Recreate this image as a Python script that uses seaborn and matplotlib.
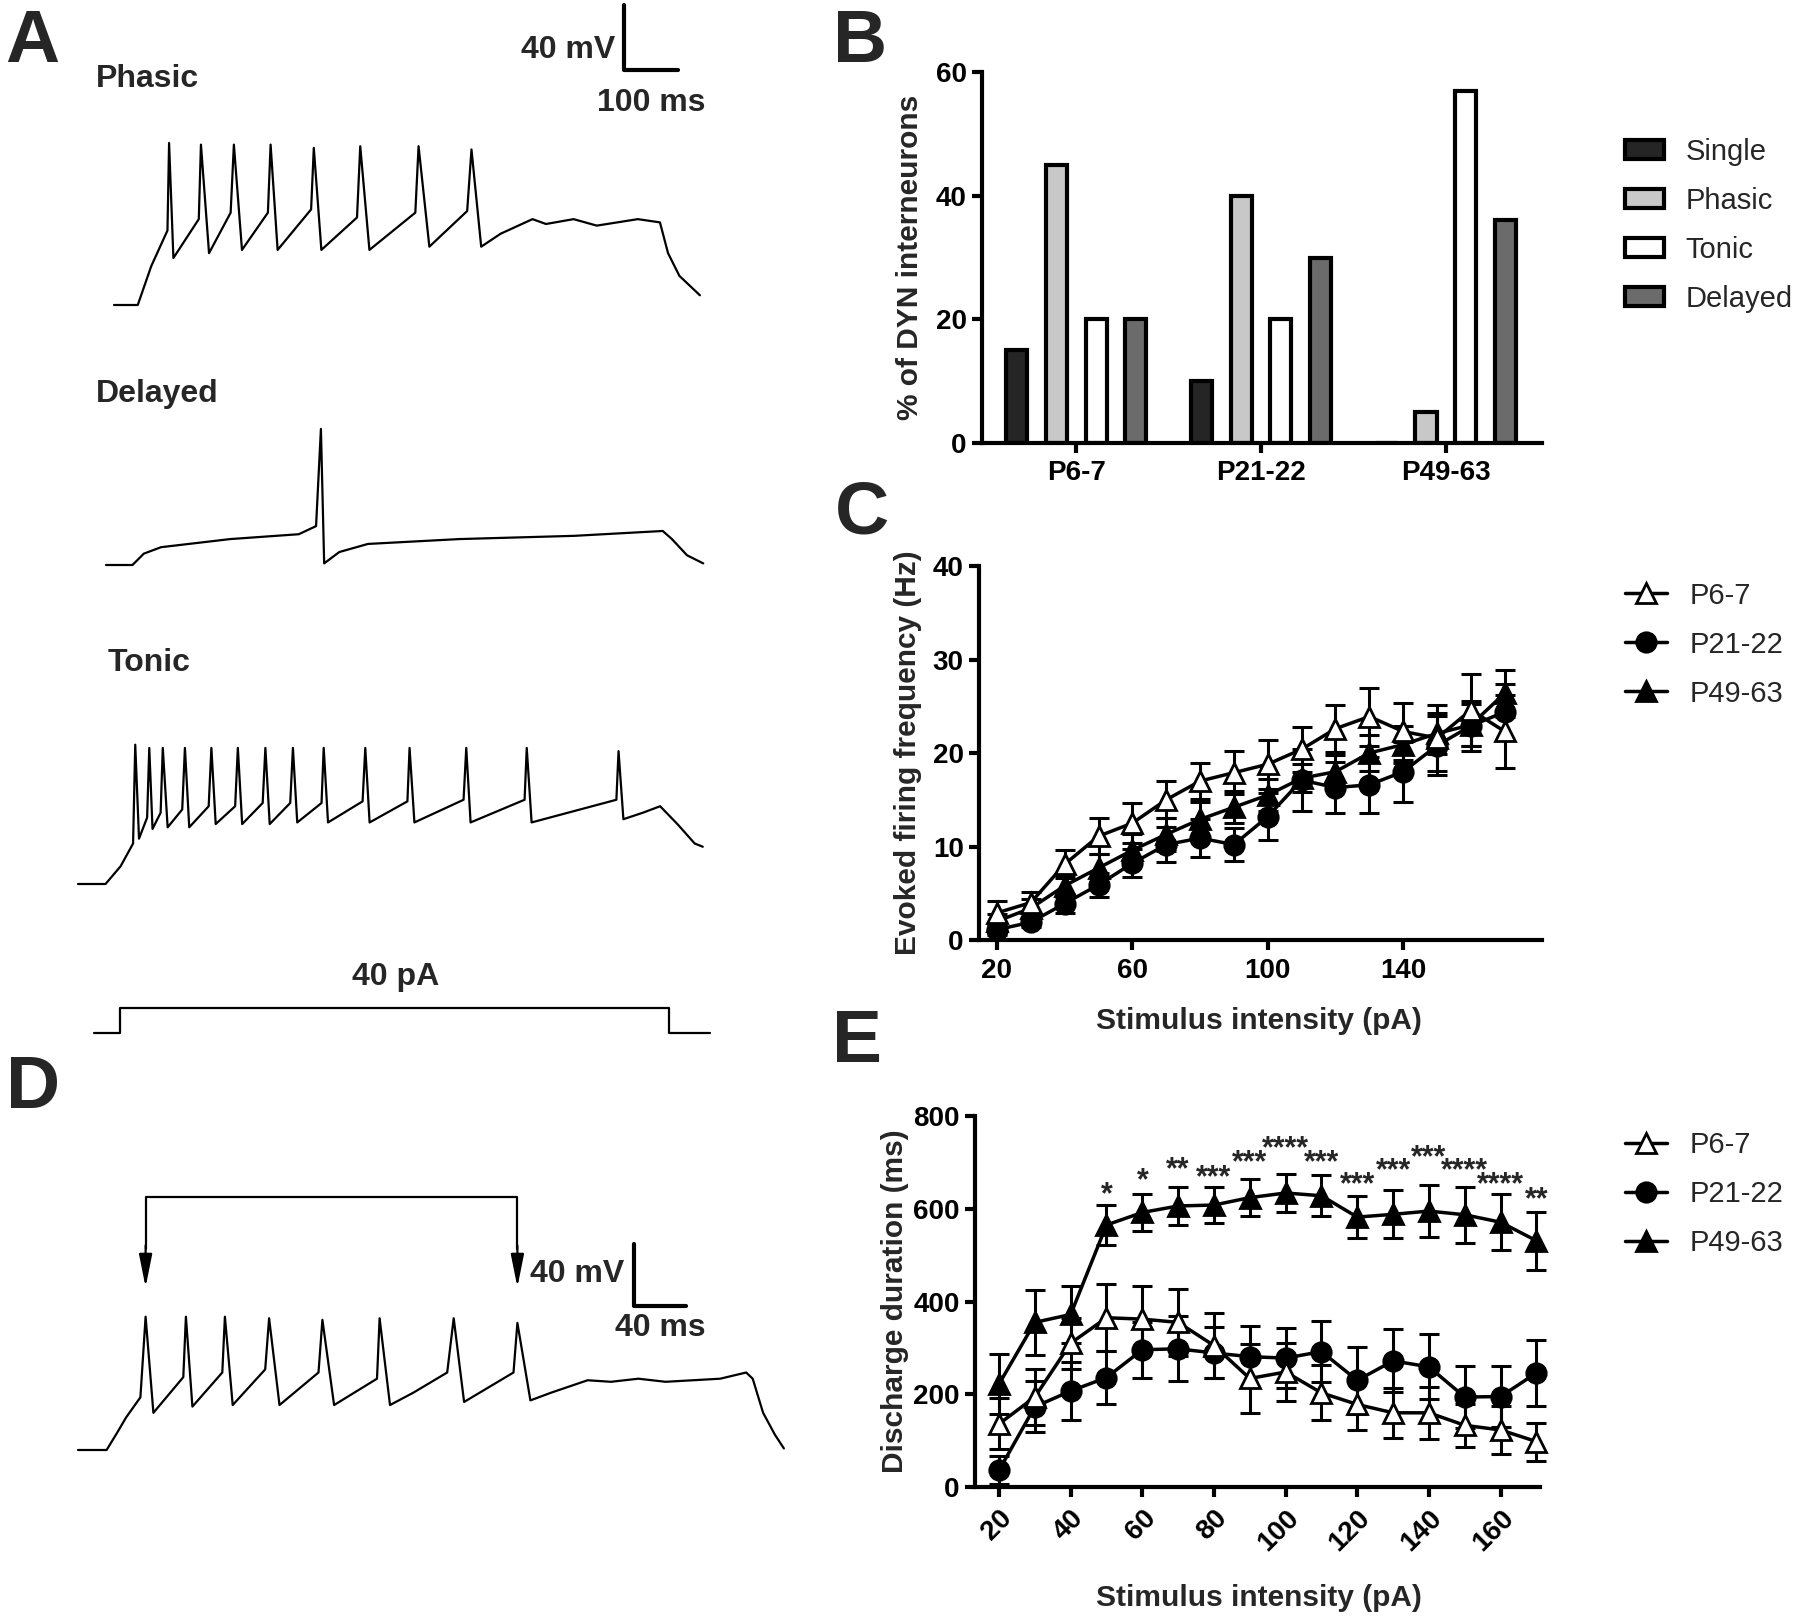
import matplotlib
matplotlib.use("Agg")
import numpy as np
import pandas as pd
import matplotlib.pyplot as plt
import seaborn as sns
from matplotlib.patches import Patch
from matplotlib.lines import Line2D

# ---- panel B: firing types by age (%)
ages = ["P6-7", "P21-22", "P49-63"]
firing_types = ["Single", "Phasic", "Tonic", "Delayed"]
single_pct = [15, 10, 0]
phasic_pct = [45, 40, 5]
tonic_pct = [20, 20, 57]
delayed_pct = [20, 30, 36]
type_colors = ["#252525", "#c8c8c8", "#ffffff", "#6b6b6b"]

# ---- panel C: evoked firing frequency (Hz), mean and SEM
stim_c = [20, 30, 40, 50, 60, 70, 80, 90, 100, 110, 120, 130, 140, 150, 160, 170]
freq_p6 = [2.9, 4.0, 8.1, 11.1, 12.5, 15.0, 17.0, 17.9, 18.8, 20.4, 22.6, 23.9, 22.3, 21.6, 24.6, 22.3]
freq_p6_sem = [1.3, 1.1, 1.5, 1.9, 2.1, 2.0, 1.9, 2.3, 2.6, 2.4, 2.5, 3.1, 3.1, 3.5, 3.8, 3.9]
freq_p21 = [1.1, 1.9, 3.9, 5.9, 8.2, 10.2, 10.9, 10.2, 13.2, 17.1, 16.3, 16.6, 18.0, 20.8, 22.9, 24.4]
freq_p21_sem = [0.6, 0.5, 1.0, 1.3, 1.5, 1.9, 2.0, 1.8, 2.5, 3.3, 2.7, 3.0, 3.2, 3.2, 2.7, 3.0]
freq_p49 = [2.0, 3.4, 5.8, 7.7, 9.6, 11.3, 12.9, 14.2, 15.5, 17.3, 18.0, 20.0, 20.9, 22.1, 23.0, 26.4]
freq_p49_sem = [0.8, 1.0, 1.2, 1.5, 1.7, 1.8, 1.9, 1.7, 1.7, 1.5, 1.8, 1.9, 2.0, 2.2, 2.2, 2.5]

# ---- panel E: discharge duration (ms), mean and SEM
stim_e = [20, 30, 40, 50, 60, 70, 80, 90, 100, 110, 120, 130, 140, 150, 160, 170]
dur_p6 = [136, 194, 310, 365, 362, 355, 305, 234, 248, 203, 178, 160, 160, 133, 123, 98]
dur_p6_sem = [55, 60, 55, 72, 72, 73, 70, 75, 63, 59, 56, 54, 56, 47, 51, 41]
dur_p21 = [36, 173, 207, 236, 296, 298, 289, 281, 278, 292, 230, 272, 259, 194, 195, 246]
dur_p21_sem = [30, 55, 63, 57, 60, 70, 55, 66, 64, 66, 72, 68, 70, 66, 66, 71]
dur_p49 = [222, 355, 372, 565, 592, 606, 608, 624, 634, 628, 582, 588, 595, 587, 571, 531]
dur_p49_sem = [65, 70, 62, 44, 40, 40, 38, 40, 40, 44, 46, 52, 56, 60, 60, 62]
star_x = [50, 60, 70, 80, 90, 100, 110, 120, 130, 140, 150, 160, 170]
star_labels = ["*", "*", "**", "***", "***", "****", "***", "***", "***", "***", "****", "****", "**"]
star_y = [651, 680, 705, 687, 720, 749, 720, 673, 702, 731, 702, 673, 640]

# ---- example traces (time in ms, membrane potential in mV)
phasic_t = [0, 44, 69, 99, 102, 110, 157, 161, 176, 216, 222, 237, 285, 290, 303, 365, 370, 384,
            450, 456, 473, 558, 564, 584, 654, 662, 680, 716, 775, 800, 851, 894, 970, 1011,
            1026, 1047, 1085]
phasic_mv = [-70, -70, -46, -24, 30, -41, -17, 29, -38, -13, 29, -36, -13, 29, -36, -11, 27, -36,
             -16, 28, -36, -13, 28, -34, -12, 26, -34, -26, -17, -20, -17, -21, -17, -19,
             -38, -52, -64]
delayed_t = [0, 49, 70, 102, 230, 357, 389, 398, 404, 432, 485, 654, 867, 1031, 1048, 1076, 1106]
delayed_mv = [-70, -70, -63, -59, -54, -51, -46, 14, -69, -62, -57, -54, -52, -49, -54, -64, -69]
tonic_t = [0, 51, 79, 102, 106, 113, 128, 132, 138, 153, 157, 166, 193, 198, 206, 242, 247, 255,
           291, 296, 304, 342, 347, 355, 393, 398, 406, 451, 455, 463, 527, 532, 540, 610, 614,
           623, 714, 719, 727, 827, 831, 840, 997, 1001, 1010, 1046, 1078, 1110, 1142, 1157]
tonic_mv = [-70, -70, -59, -45, 16, -42, -29, 14, -36, -26, 14, -35, -24, 14, -35, -22, 14, -33,
            -22, 14, -33, -20, 14, -33, -20, 14, -32, -20, 14, -32, -19, 14, -32, -19, 14,
            -32, -18, 14, -32, -18, 14, -32, -18, 12, -30, -26, -22, -33, -45, -47]
step_t = [0, 49, 49, 1065, 1065, 1140]
step_pa = [0, 0, 40, 40, 0, 0]
d_t = [0, 22, 30, 37, 48, 52, 58, 81, 83, 88, 111, 113, 119, 144, 147, 155, 185, 188, 197, 230,
       232, 240, 258, 284, 289, 297, 335, 338, 348, 364, 392, 410, 431, 452, 494, 514, 519,
       527, 536, 543]
d_mv = [-70, -70, -59, -49, -36, 16, -46, -23, 16, -42, -20, 16, -41, -18, 15, -41, -20, 14, -41,
        -24, 15, -41, -33, -20, 15, -39, -20, 12, -38, -33, -25, -26, -24, -26, -24, -20, -24,
        -46, -60, -69]

sns.set_theme(style="ticks")
plt.rcParams["font.family"] = ["Liberation Sans", "DejaVu Sans"]
plt.rcParams.update({
    "font.weight": "bold",
    "axes.labelweight": "bold",
    "axes.linewidth": 3,
    "xtick.major.width": 3,
    "ytick.major.width": 3,
    "xtick.major.size": 7,
    "ytick.major.size": 7,
    "xtick.labelsize": 20,
    "ytick.labelsize": 20,
    "xtick.color": "black",
    "ytick.color": "black",
    "axes.edgecolor": "black",
})

W, H = 1800, 1618
fig = plt.figure(figsize=(W / 100, H / 100), dpi=100)
LABEL_FS = 21.5
LEG_PROP = {"weight": "normal", "size": 21}
TXT_FS = 23


def px_rect(left, top, right, bottom):
    return [left / W, 1 - bottom / H, (right - left) / W, (bottom - top) / H]


def ftext(x, y, s, **kw):
    fig.text(x / W, 1 - y / H, s, **kw)


def trace_axes(x0, y0, top, px_per_x, px_per_y, y_base=-70.0, right=880):
    ax = fig.add_axes(px_rect(x0, top, right, y0))
    ax.set_xlim(0, (right - x0) / px_per_x)
    ax.set_ylim(y_base, y_base + (y0 - top) / px_per_y)
    ax.set_axis_off()
    return ax


trace_kw = dict(color="black", lw=1.6, clip_on=False, solid_joinstyle="round")

# ---- panel A
ax_ph = trace_axes(114, 305, 0, 0.54, 1.62)
ax_ph.plot(phasic_t, phasic_mv, **trace_kw)
ax_ph.plot([944, 944, 1044], [115, 75, 75], color="black", lw=3, clip_on=False)
ftext(615, 50, "40 mV", ha="right", va="center", fontsize=TXT_FS, fontweight="bold")
ftext(651, 103, "100 ms", ha="center", va="center", fontsize=TXT_FS, fontweight="bold")

ax_dl = trace_axes(106, 565, 330, 0.54, 1.62)
ax_dl.plot(delayed_t, delayed_mv, **trace_kw)

ax_tn = trace_axes(78, 884, 640, 0.54, 1.62)
ax_tn.plot(tonic_t, tonic_mv, **trace_kw)

ax_st = trace_axes(94, 1033, 990, 0.54, 0.625, y_base=0)
ax_st.plot(step_t, step_pa, **trace_kw)

ftext(96, 79, "Phasic", ha="left", va="center", fontsize=TXT_FS, fontweight="bold")
ftext(96, 394, "Delayed", ha="left", va="center", fontsize=TXT_FS, fontweight="bold")
ftext(108, 663, "Tonic", ha="left", va="center", fontsize=TXT_FS, fontweight="bold")
ftext(396, 977, "40 pA", ha="center", va="center", fontsize=TXT_FS, fontweight="bold")

# ---- panel D
ax_d = trace_axes(78, 1450, 1150, 1.3, 1.55)
ax_d.plot(d_t, d_mv, **trace_kw)
ax_d.plot([52, 52, 338, 338], [60, 93, 93, 60], color="black", lw=1.6, clip_on=False)
for tx in [52, 338]:
    ax_d.annotate("", xy=(tx, 35), xytext=(tx, 62),
                  arrowprops=dict(arrowstyle="-|>,head_length=1.0,head_width=0.2",
                                  color="black", lw=1.6, mutation_scale=20, shrinkA=0, shrinkB=0))
ax_d.plot([428, 428, 468], [63, 23, 23], color="black", lw=3, clip_on=False)
ftext(624, 1274, "40 mV", ha="right", va="center", fontsize=TXT_FS, fontweight="bold")
ftext(660, 1328, "40 ms", ha="center", va="center", fontsize=TXT_FS, fontweight="bold")

# ---- panel B
df_b = pd.DataFrame({
    "age": np.repeat(ages, len(firing_types)),
    "type": firing_types * len(ages),
    "pct": np.array([single_pct, phasic_pct, tonic_pct, delayed_pct]).T.ravel(),
})
ax_b = fig.add_axes(px_rect(982, 72, 1542, 443))
sns.barplot(data=df_b, x="age", y="pct", hue="type", hue_order=firing_types,
            palette=type_colors, width=0.86, gap=0.47, edgecolor="black",
            linewidth=3, saturation=1, legend=False, ax=ax_b)
ax_b.set_xlim(-0.51, 2.52)
ax_b.set_ylim(0, 60)
ax_b.set_yticks([0, 20, 40, 60])
ax_b.set_xlabel("")
ax_b.set_ylabel("% of DYN interneurons", fontsize=LABEL_FS)
ax_b.yaxis.set_label_coords(-0.104, 0.5)
ax_b.tick_params(axis="x", pad=5)
ax_b.tick_params(axis="y", pad=4)
sns.despine(ax=ax_b)
b_handles = [Patch(facecolor=c, edgecolor="black", linewidth=3) for c in type_colors]
ax_b.legend(b_handles, firing_types, loc="upper left", bbox_to_anchor=(0.9028, 0.9150),
            bbox_transform=fig.transFigure, frameon=False, prop=LEG_PROP,
            handlelength=1.33, handleheight=0.65, handletextpad=0.75, labelspacing=0.72,
            borderpad=0, borderaxespad=0)

series_style = {
    "P6-7": dict(marker="^", markerfacecolor="white"),
    "P21-22": dict(marker="o", markerfacecolor="black"),
    "P49-63": dict(marker="^", markerfacecolor="black"),
}
marker_sizes = {"^": 15, "o": 14}
order = ["P6-7", "P21-22", "P49-63"]


def line_panel(ax, x, series):
    for name, (y, err) in series.items():
        st = series_style[name]
        ax.errorbar(x, y, yerr=err, fmt="none", ecolor="black", elinewidth=2.2,
                    capsize=7, capthick=2.2, zorder=2, clip_on=False)
        sns.lineplot(x=x, y=y, ax=ax, color="black", lw=2.5, marker=st["marker"],
                     markersize=marker_sizes[st["marker"]],
                     markerfacecolor=st["markerfacecolor"], markeredgecolor="black",
                     markeredgewidth=2, zorder=3, clip_on=False)
    sns.despine(ax=ax)
    handles = [Line2D([], [], color="black", lw=2.5, marker=series_style[n]["marker"],
                      markerfacecolor=series_style[n]["markerfacecolor"], markeredgecolor="black",
                      markeredgewidth=2, markersize=marker_sizes[series_style[n]["marker"]])
               for n in order]
    return handles


# ---- panel C
ax_c = fig.add_axes(px_rect(979, 566, 1542, 940))
h_c = line_panel(ax_c, stim_c, {
    "P21-22": (freq_p21, freq_p21_sem),
    "P49-63": (freq_p49, freq_p49_sem),
    "P6-7": (freq_p6, freq_p6_sem),
})
ax_c.set_xlim(14.7, 181)
ax_c.set_ylim(0, 40)
ax_c.set_xticks([20, 60, 100, 140])
ax_c.set_yticks([0, 10, 20, 30, 40])
ax_c.set_xlabel("Stimulus intensity (pA)", fontsize=LABEL_FS)
ax_c.set_ylabel("Evoked firing frequency (Hz)", fontsize=LABEL_FS)
ax_c.yaxis.set_label_coords(-0.101, 0.5)
ax_c.xaxis.set_label_coords(0.497, -0.18)
ax_c.tick_params(axis="x", pad=6)
ax_c.tick_params(axis="y", pad=4)
ax_c.legend(h_c, order, loc="upper left", bbox_to_anchor=(0.9028, 0.6406),
            bbox_transform=fig.transFigure, frameon=False, prop=LEG_PROP,
            handlelength=1.45, handletextpad=0.75, labelspacing=0.72, borderpad=0, borderaxespad=0)

# ---- panel E
ax_e = fig.add_axes(px_rect(975, 1116, 1540, 1487))
h_e = line_panel(ax_e, stim_e, {
    "P21-22": (dur_p21, dur_p21_sem),
    "P49-63": (dur_p49, dur_p49_sem),
    "P6-7": (dur_p6, dur_p6_sem),
})
ax_e.set_xlim(13.3, 171)
ax_e.set_ylim(0, 800)
ax_e.set_xticks(range(20, 161, 20))
ax_e.set_yticks([0, 200, 400, 600, 800])
for lab in ax_e.get_xticklabels():
    lab.set_rotation(45)
    lab.set_ha("right")
    lab.set_rotation_mode("anchor")
ax_e.set_xlabel("Stimulus intensity (pA)", fontsize=LABEL_FS)
ax_e.set_ylabel("Discharge duration (ms)", fontsize=LABEL_FS)
ax_e.yaxis.set_label_coords(-0.117, 0.5)
ax_e.xaxis.set_label_coords(0.503, -0.262)
ax_e.tick_params(axis="x", pad=6)
ax_e.tick_params(axis="y", pad=4)
for sx, sy, s in zip(star_x, star_y, star_labels):
    ax_e.annotate(s, (sx, sy), xytext=(0, -13), textcoords="offset points",
                  ha="center", va="baseline", fontsize=22, fontweight="bold")
ax_e.legend(h_e, order, loc="upper left", bbox_to_anchor=(0.9028, 0.3007),
            bbox_transform=fig.transFigure, frameon=False, prop=LEG_PROP,
            handlelength=1.45, handletextpad=0.75, labelspacing=0.72, borderpad=0, borderaxespad=0)

# ---- panel letters
for x, y, s in [(5, 43, "A"), (833, 43, "B"), (835, 514, "C"), (6, 1088, "D"), (832, 1043, "E")]:
    ftext(x, y, s, ha="left", va="center", fontsize=54, fontweight="bold")

fig.savefig("out.png", dpi=100, facecolor="white")
